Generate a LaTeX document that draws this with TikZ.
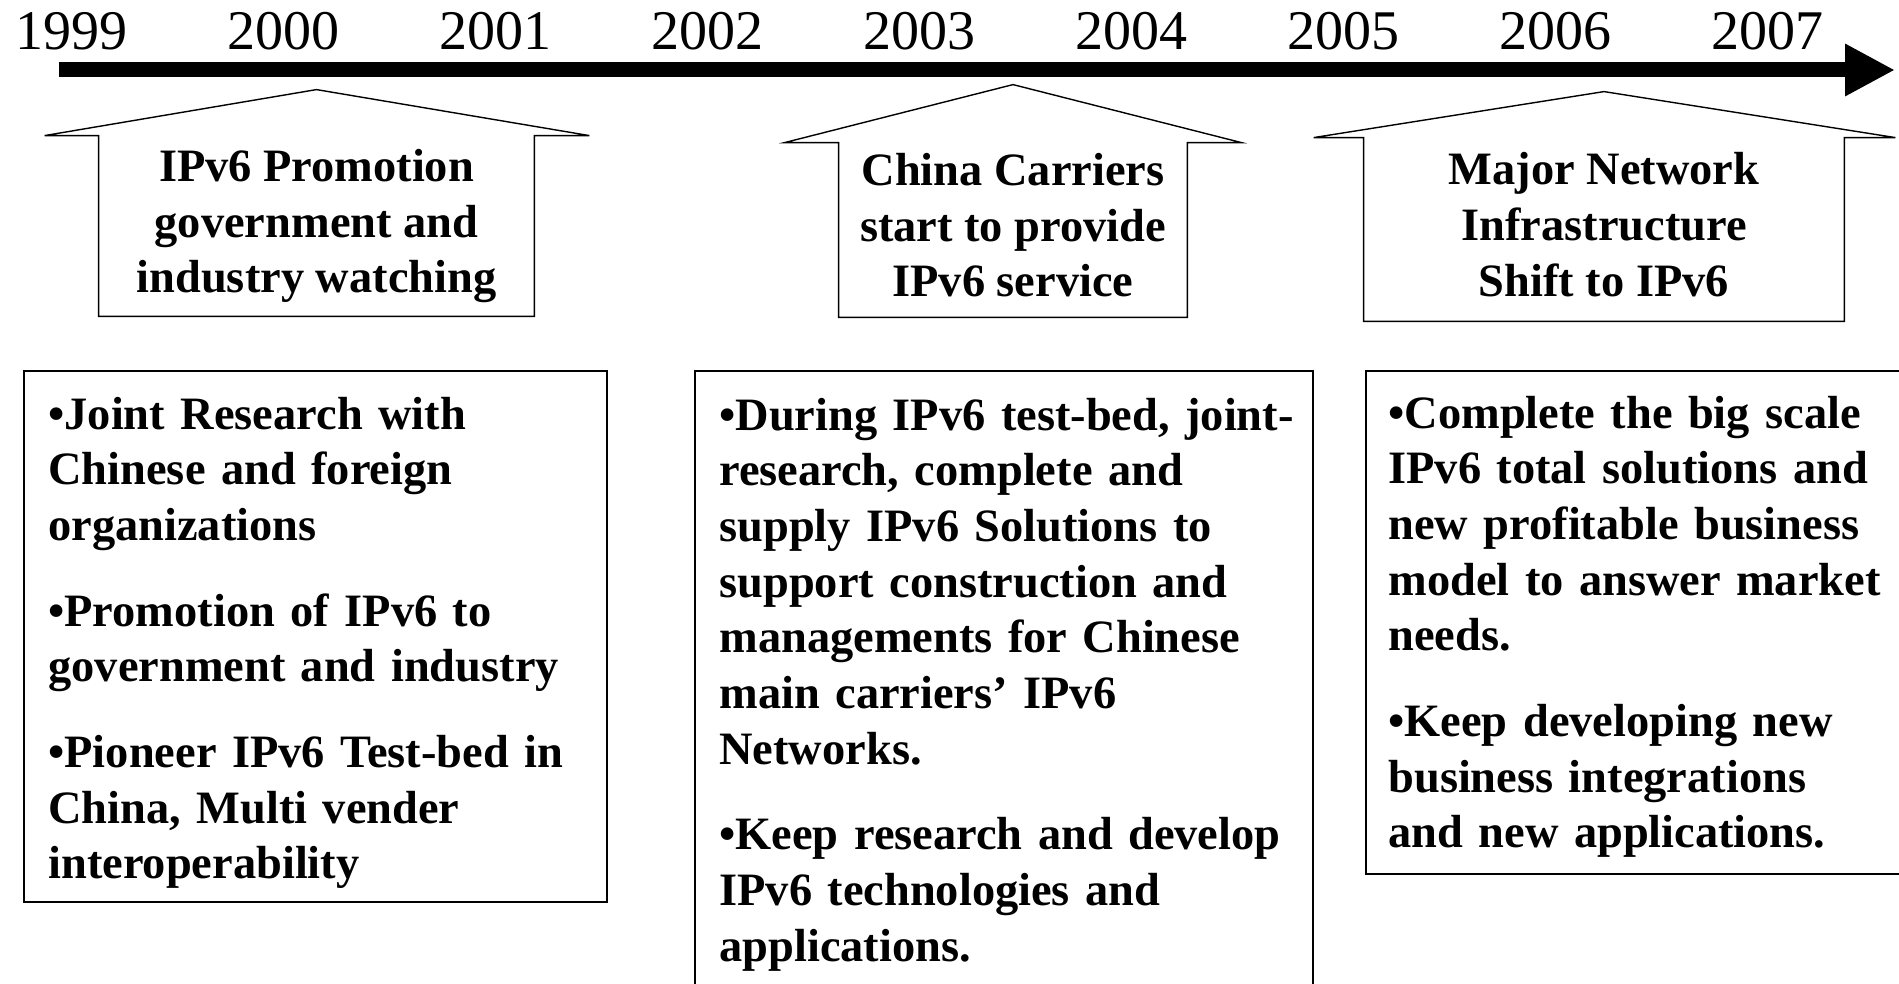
\documentclass[tikz,border=0pt]{standalone}
\usepackage{fontspec}
\setmainfont{Liberation Serif}
\usetikzlibrary{arrows.meta,calc}

\tikzset{
  timeline/.style={line width=7.5pt, -{Triangle[length=25pt,width=24.5pt]}},
  yearlabel/.style={anchor=base, inner sep=0pt, font=\fontsize{28pt}{33pt}\selectfont},
  housebox/.style={inner sep=0pt, align=center, text depth=5pt,
    font=\bfseries\fontsize{23.2pt}{27.85pt}\selectfont},
  houseline/.style={line width=0.7pt, line join=miter},
  infobox/.style={draw, line width=0.7pt, inner sep=0pt},
  infotext/.style={anchor=base west, inner sep=0pt, text width=330pt, align=left,
    font=\bfseries\fontsize{23.2pt}{27.85pt}\selectfont}
}

\begin{document}
\begin{tikzpicture}[x=0.5pt, y=-0.5pt]
        \useasboundingbox (0,0) rectangle (1899,984);

        % time axis
        \coordinate (tstart) at (59,70);
        \coordinate (tend) at (1895,70);
        \draw[timeline] (tstart) -- (tend);

        % years
        \foreach \yr [count=\i from 0] in {1999,2000,...,2007}
            \node[yearlabel] (y\yr) at ({71+212*\i},50) {\yr};

        % milestone 1
        \node[housebox, minimum width=217.5pt, minimum height=90pt] (promo) at (316.5,226)
            {IPv6 Promotion\\government and\\industry watching};
        \draw[houseline] (promo.south west) -- (promo.north west) -- ++(-54,0)
            -- ($(promo.north)+(0,-46)$) -- ($(promo.north east)+(55,0)$)
            -- (promo.north east) -- (promo.south east) -- cycle;

        % milestone 2
        \node[housebox, minimum width=174pt, minimum height=87pt] (carrier) at (1013,230)
            {China Carriers\\start to provide\\IPv6 service};
        \draw[houseline] (carrier.south west) -- (carrier.north west) -- ++(-54,0)
            -- ($(carrier.north)+(0,-58)$) -- ($(carrier.north east)+(54,0)$)
            -- (carrier.north east) -- (carrier.south east) -- cycle;

        % milestone 3
        \node[housebox, minimum width=240pt, minimum height=91.5pt] (shift) at (1604,229.5)
            {Major Network\\Infrastructure\\Shift to IPv6};
        \draw[houseline] (shift.south west) -- (shift.north west) -- ++(-50,0)
            -- ($(shift.north)+(0,-46)$) -- ($(shift.north east)+(51,0)$)
            -- (shift.north east) -- (shift.south east) -- cycle;

        % detail boxes
        \node[infobox, minimum width=291.5pt, minimum height=265.5pt] (box1) at (315.5,636.5) {};
        \node[infobox, minimum width=309pt, minimum height=320pt] (box2) at (1004,691) {};
        \node[infobox, minimum width=280pt, minimum height=251.5pt] (box3) at (1646,622.5) {};

        % detail texts
        \node[infotext] (text1) at (48,429)
            {•Joint Research with\\Chinese and foreign\\organizations\\[15pt]
             •Promotion of IPv6 to\\government and industry\\[15pt]
             •Pioneer IPv6 Test-bed in\\China, Multi vender\\interoperability};
        \node[infotext] (text2) at (719,430)
            {•During IPv6 test-bed, joint-\\research, complete and\\supply IPv6 Solutions to\\support construction and\\managements for Chinese\\main carriers’ IPv6\\Networks.\\[15pt]
             •Keep research and develop\\IPv6 technologies and\\applications.};
        \node[infotext] (text3) at (1388,428)
            {•Complete the big scale\\IPv6 total solutions and\\new profitable business\\model to answer market\\needs.\\[15pt]
             •Keep developing new\\business integrations\\and new applications.};

    \end{tikzpicture}
\end{document}
